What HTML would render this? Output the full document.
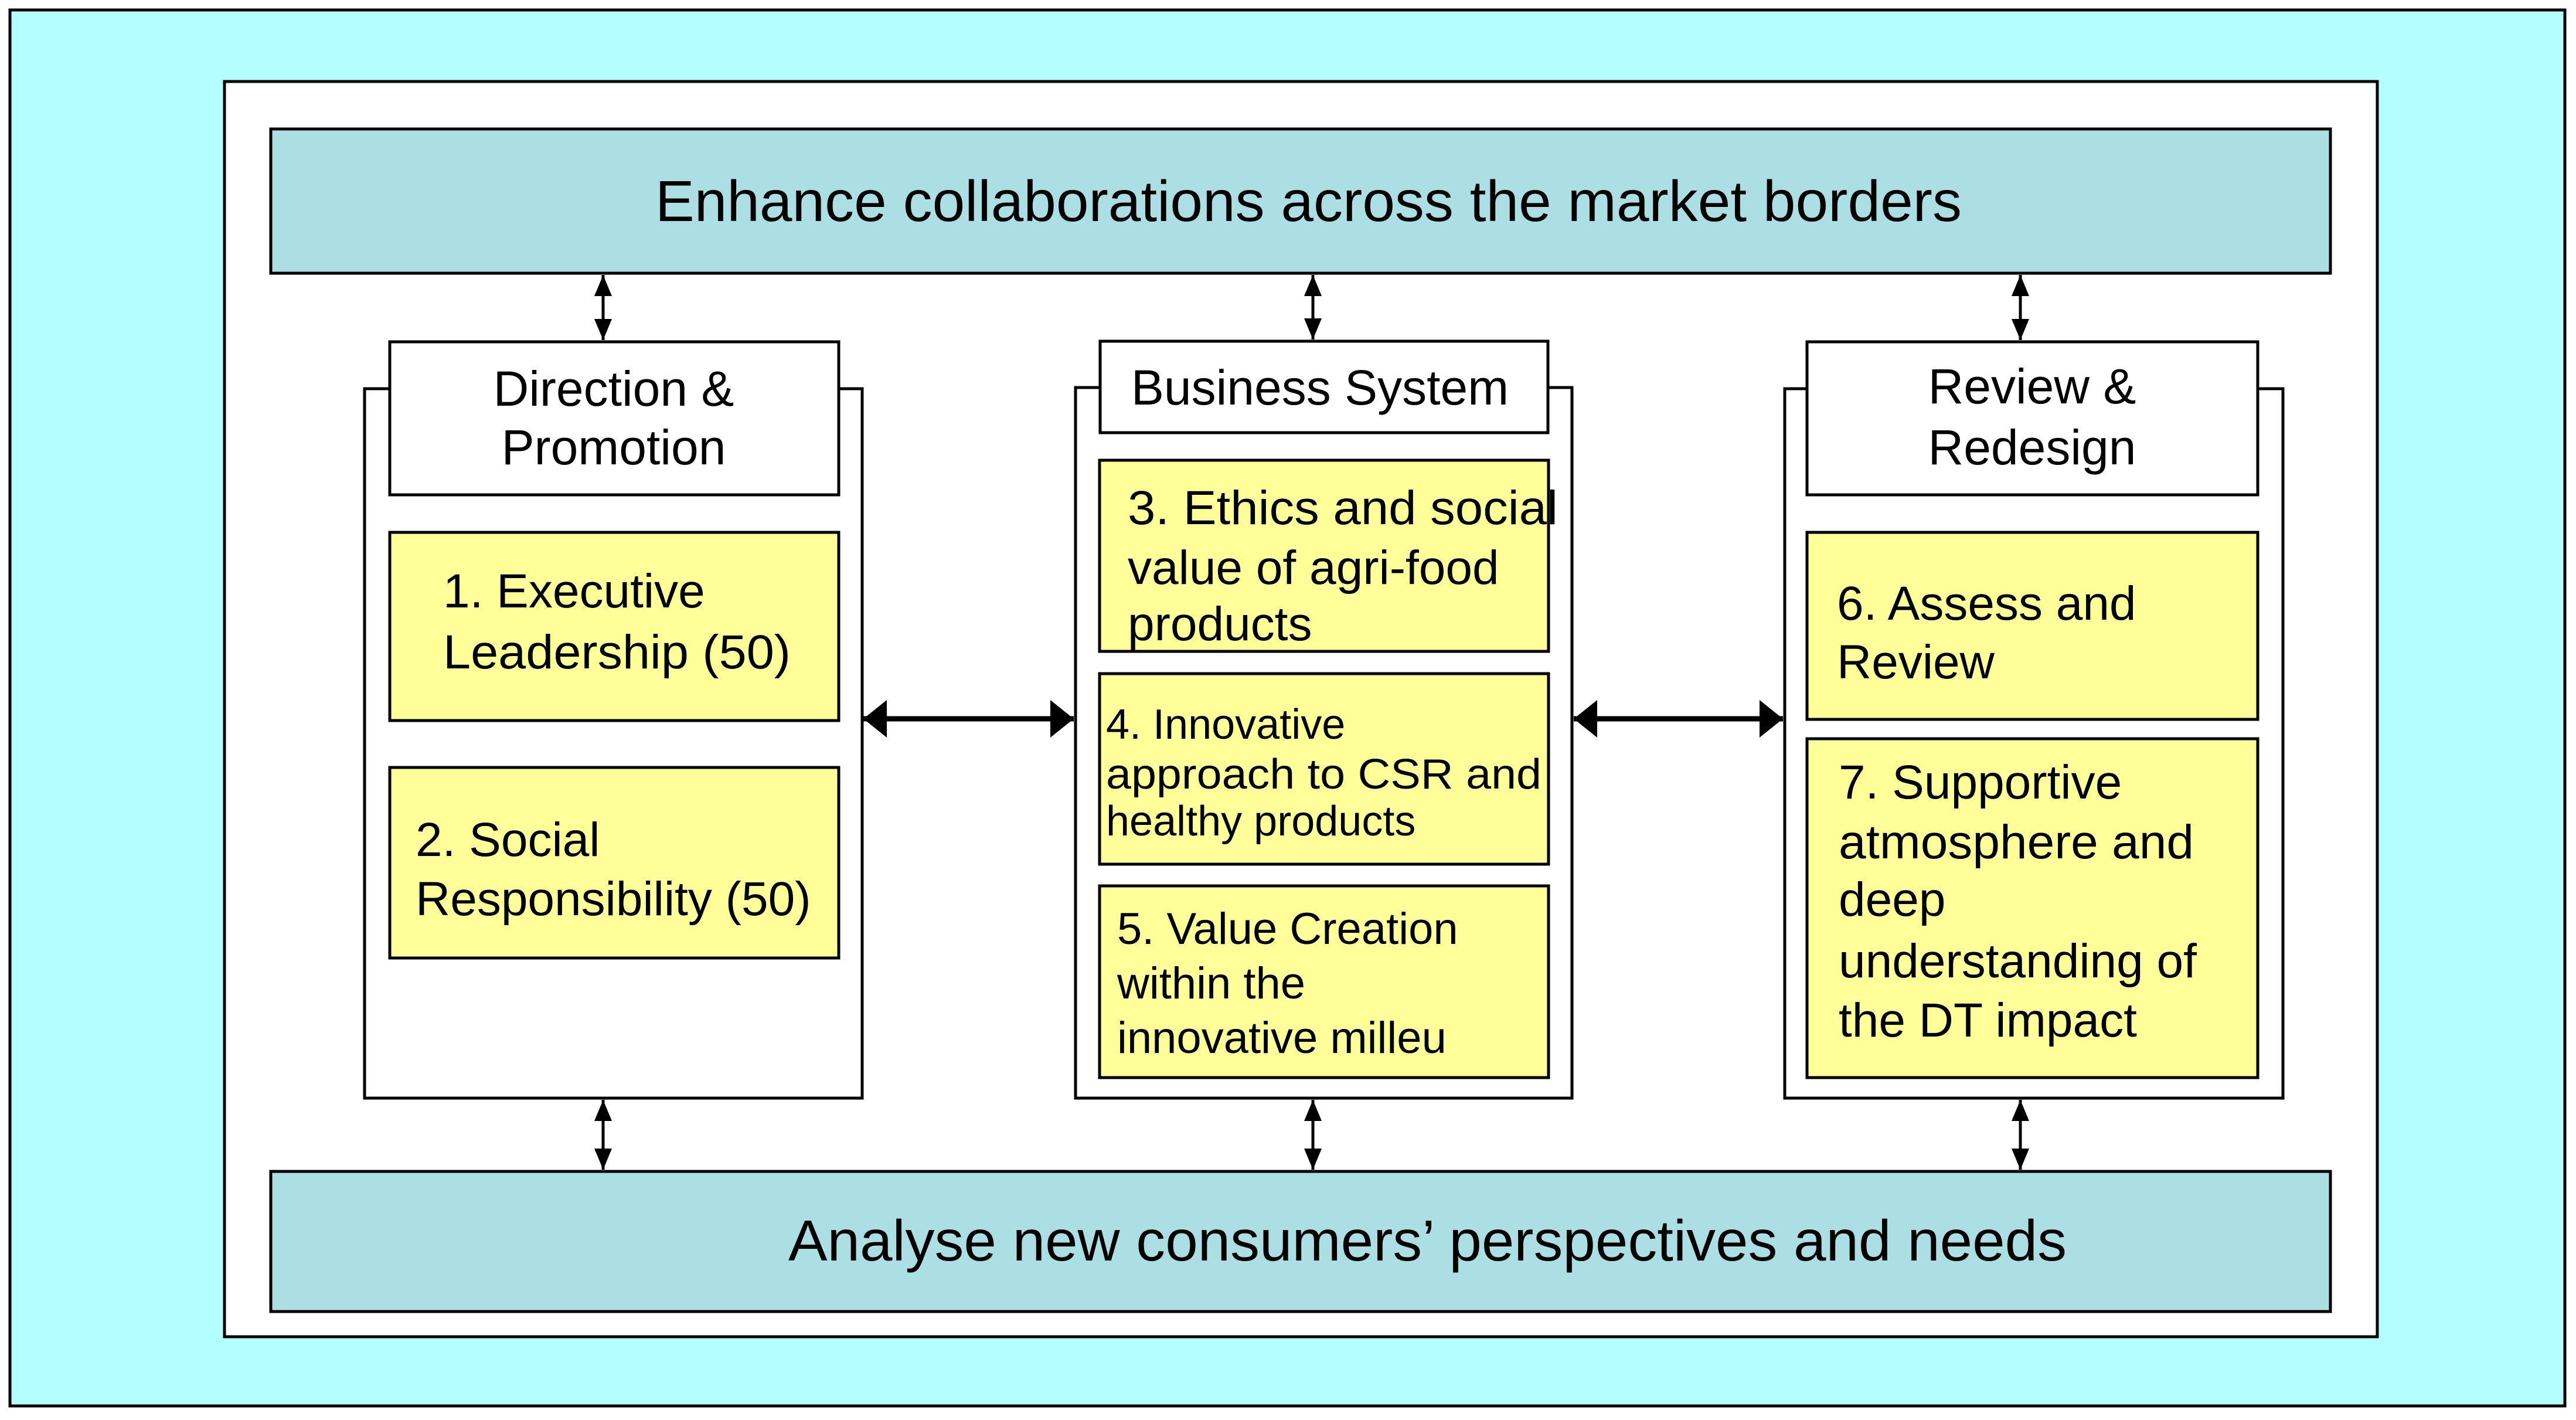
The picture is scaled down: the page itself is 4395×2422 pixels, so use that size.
<!DOCTYPE html>
<html><head><meta charset="utf-8"><style>html,body{margin:0;padding:0;background:#fff}svg{display:block}</style></head>
<body>
<svg xmlns="http://www.w3.org/2000/svg" width="4395" height="2422" viewBox="0 0 4395 2422" font-family="Liberation Sans, Arial, sans-serif" fill="#000">
<defs>
<marker id="ah" viewBox="0 0 12 10" refX="12" refY="5" markerWidth="36" markerHeight="30" markerUnits="userSpaceOnUse" orient="auto-start-reverse"><path d="M0,0 L12,5 L0,10 z"/></marker>
<marker id="ah2" viewBox="0 0 10 16" refX="10" refY="8" markerWidth="40" markerHeight="64" markerUnits="userSpaceOnUse" orient="auto-start-reverse"><path d="M0,0 L10,8 L0,16 z"/></marker>
</defs>
<rect x="0" y="0" width="4395" height="2422" fill="#fff"/>
<rect x="17" y="17" width="4359" height="2381" fill="#b3ffff" stroke="#000" stroke-width="5"/>
<rect x="383" y="139" width="3673" height="2141" fill="#fff" stroke="#000" stroke-width="5"/>
<rect x="462" y="220" width="3514" height="246" fill="#acdfe3" stroke="#000" stroke-width="5"/>
<text x="1118" y="377" font-size="98" textLength="2229" lengthAdjust="spacingAndGlyphs">Enhance collaborations across the market borders</text>
<rect x="462" y="1998" width="3514" height="239" fill="#acdfe3" stroke="#000" stroke-width="5"/>
<text x="1345" y="2150" font-size="98" textLength="2181" lengthAdjust="spacingAndGlyphs">Analyse new consumers’ perspectives and needs</text>

<g stroke="#000" stroke-width="5" fill="#fff">
<rect x="622" y="663" width="849" height="1210"/>
<rect x="1835" y="661" width="847" height="1212"/>
<rect x="3045" y="663" width="850" height="1210"/>
<rect x="665" y="583" width="766" height="261"/>
<rect x="1877" y="582" width="764" height="156"/>
<rect x="3083" y="583" width="769" height="261"/>
</g>
<g stroke="#000" stroke-width="5" fill="#ffff99">
<rect x="665" y="908" width="766" height="321"/>
<rect x="665" y="1309" width="766" height="325"/>
<rect x="1876" y="785" width="766" height="326"/>
<rect x="1876" y="1149" width="766" height="325"/>
<rect x="1876" y="1511" width="766" height="327"/>
<rect x="3083" y="908" width="769" height="319"/>
<rect x="3083" y="1260" width="769" height="578"/>
</g>

<g font-size="84" text-anchor="middle">
<text x="1047" y="692">Direction &amp;</text>
<text x="1047" y="792">Promotion</text>
<text x="2252" y="690">Business System</text>
<text x="3467" y="688">Review &amp;</text>
<text x="3467" y="792">Redesign</text>
</g>
<g font-size="82">
<text x="756" y="1036">1. Executive</text>
<text x="756" y="1140" textLength="593" lengthAdjust="spacingAndGlyphs">Leadership (50)</text>
<text x="709" y="1460">2. Social</text>
<text x="709" y="1561">Responsibility (50)</text>
<text x="1924" y="894" textLength="734" lengthAdjust="spacingAndGlyphs">3. Ethics and social</text>
<text x="1924" y="996">value of agri-food</text>
<text x="1924" y="1092">products</text>
<text x="3134" y="1057">6. Assess and</text>
<text x="3134" y="1157">Review</text>
<text x="3137" y="1362">7. Supportive</text>
<text x="3137" y="1464" textLength="606" lengthAdjust="spacingAndGlyphs">atmosphere and</text>
<text x="3137" y="1562">deep</text>
<text x="3137" y="1667">understanding of</text>
<text x="3137" y="1768">the DT impact</text>
</g>
<g font-size="72">
<text x="1887" y="1260">4. Innovative</text>
<text x="1887" y="1345" textLength="743" lengthAdjust="spacingAndGlyphs">approach to CSR and</text>
<text x="1887" y="1425">healthy products</text>
</g>
<g font-size="76">
<text x="1906" y="1610">5. Value Creation</text>
<text x="1906" y="1703">within the</text>
<text x="1906" y="1796">innovative milleu</text>
</g>

<g stroke="#000" stroke-width="5">
<line x1="1029" y1="469" x2="1029" y2="580" marker-start="url(#ah)" marker-end="url(#ah)"/>
<line x1="2240" y1="469" x2="2240" y2="579" marker-start="url(#ah)" marker-end="url(#ah)"/>
<line x1="3447" y1="469" x2="3447" y2="580" marker-start="url(#ah)" marker-end="url(#ah)"/>
<line x1="1029" y1="1876" x2="1029" y2="1995" marker-start="url(#ah)" marker-end="url(#ah)"/>
<line x1="2240" y1="1876" x2="2240" y2="1995" marker-start="url(#ah)" marker-end="url(#ah)"/>
<line x1="3447" y1="1876" x2="3447" y2="1995" marker-start="url(#ah)" marker-end="url(#ah)"/>
</g>
<g stroke="#000" stroke-width="9">
<line x1="1473" y1="1226" x2="1832" y2="1226" marker-start="url(#ah2)" marker-end="url(#ah2)"/>
<line x1="2685" y1="1226" x2="3042" y2="1226" marker-start="url(#ah2)" marker-end="url(#ah2)"/>
</g>
</svg>
</body></html>
